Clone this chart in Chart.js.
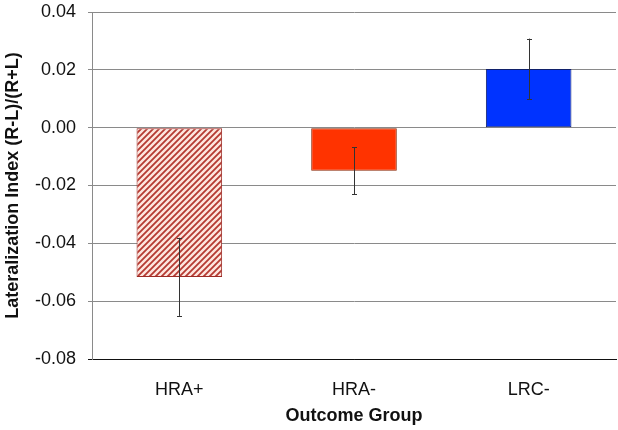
<!DOCTYPE html>
<html>
<head>
<meta charset="utf-8">
<script src="https://cdn.jsdelivr.net/npm/chart.js@4"></script>
<style>
  html, body { margin: 0; padding: 0; background: #fff; }
  #wrap { width: 618px; height: 430px; }
</style>
</head>
<body>
<div id="wrap"><canvas id="chart" width="618" height="430"></canvas></div>
<script>
const groups = ['HRA+', 'HRA-', 'LRC-'];
const meanValues = [-0.0516, -0.0149, 0.0203];
const errorValues = [0.0135, 0.0081, 0.0105];
const yTicks = [-0.08, -0.06, -0.04, -0.02, 0.00, 0.02, 0.04];

// diagonal stripes for the first bar
function makeHatch() {
    const c = document.createElement('canvas');
    c.width = 6;
    c.height = 6;
    const g = c.getContext('2d');
    g.fillStyle = '#fde6df';
    g.fillRect(0, 0, 6, 6);
    g.strokeStyle = '#b53a32';
    g.lineWidth = 1.8;
    g.beginPath();
    g.moveTo(-1, 7); g.lineTo(7, -1);
    g.moveTo(-4, 4); g.lineTo(4, -4);
    g.moveTo(2, 10); g.lineTo(10, 2);
    g.stroke();
    return g.createPattern(c, 'repeat');
}

const errorBars = {
    id: 'errorBars',
    afterDatasetsDraw(chart) {
        const ctx = chart.ctx;
        const y = chart.scales.y;
        const meta = chart.getDatasetMeta(0);
        ctx.save();
        ctx.strokeStyle = '#333';
        ctx.lineWidth = 1;
        meta.data.forEach((bar, i) => {
            const x = Math.round(bar.x) + 0.5;
            const hi = y.getPixelForValue(meanValues[i] + errorValues[i]);
            const lo = y.getPixelForValue(meanValues[i] - errorValues[i]);
            ctx.beginPath();
            ctx.moveTo(x, hi); ctx.lineTo(x, lo);
            ctx.moveTo(x - 2.5, Math.round(hi) + 0.5); ctx.lineTo(x + 2.5, Math.round(hi) + 0.5);
            ctx.moveTo(x - 2.5, Math.round(lo) + 0.5); ctx.lineTo(x + 2.5, Math.round(lo) + 0.5);
            ctx.stroke();
        });
        ctx.restore();
    }
};

const font = 'Liberation Sans, Arial, Helvetica, sans-serif';

new Chart(document.getElementById('chart'), {
    type: 'bar',
    data: {
        labels: groups,
        datasets: [{
            data: meanValues,
            backgroundColor: [makeHatch(), '#ff3300', '#0033ff'],
            borderColor: ['#9c2a24', '#8a2200', '#10206a'],
            borderWidth: 1,
            borderSkipped: false,
            categoryPercentage: 1,
            barPercentage: 0.49
        }]
    },
    options: {
        responsive: false,
        animation: false,
        layout: { padding: { top: 0, right: 2, left: 0, bottom: 0 } },
        plugins: {
            legend: { display: false },
            tooltip: { enabled: false }
        },
        scales: {
            x: {
                grid: { display: false },
                border: { display: true, color: '#111', width: 1 },
                ticks: { color: '#111', padding: 12, font: { family: font, size: 18 } },
                title: {
                    display: true,
                    text: 'Outcome Group',
                    color: '#111',
                    padding: { top: 0, bottom: 3 },
                    font: { family: font, size: 18, weight: 'bold' }
                },
                afterFit(scale) { scale.height = 71; }
            },
            y: {
                min: -0.08,
                max: 0.04,
                afterBuildTicks(scale) {
                    scale.ticks = yTicks.map(v => ({ value: v }));
                },
                grid: {
                    color: ctx => (ctx.tick && ctx.tick.value <= -0.08 + 1e-9) ? '#111' : '#8a8a8a',
                    lineWidth: 1,
                    tickLength: 4,
                    drawTicks: true
                },
                border: { display: true, color: '#8a8a8a', width: 1 },
                ticks: {
                    color: '#111',
                    padding: 12,
                    font: { family: font, size: 18 },
                    callback: v => (Math.abs(v) < 1e-9 ? 0 : v).toFixed(2)
                },
                title: {
                    display: true,
                    text: 'Lateralization Index (R-L)/(R+L)',
                    color: '#111',
                    padding: { top: 2, bottom: 0 },
                    font: { family: font, size: 18, weight: 'bold' }
                },
                afterFit(scale) {
                    scale.width = 92;
                    scale.paddingTop = 12;
                    scale.paddingBottom = 10;
                }
            }
        }
    },
    plugins: [errorBars]
});
</script>
</body>
</html>
